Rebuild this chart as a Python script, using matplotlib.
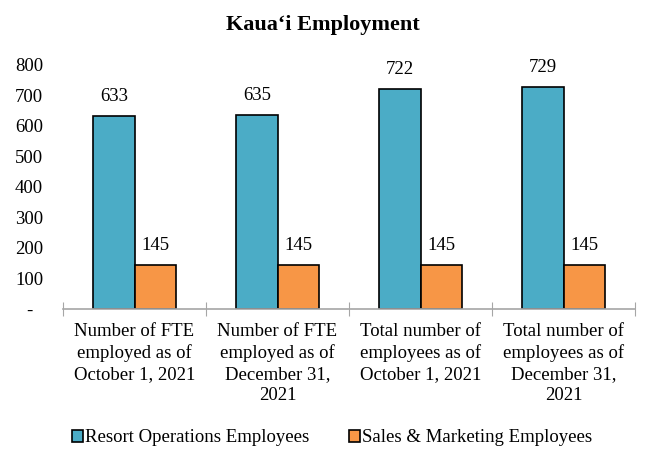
import numpy as np
from matplotlib import pyplot as plt

categories = ["Number of FTE\nemployed as of\nOctober 1, 2021",
              "Number of FTE\nemployed as of\nDecember 31,\n2021",
              "Total number of\nemployees as of\nOctober 1, 2021",
              "Total number of\nemployees as of\nDecember 31,\n2021"]
resort = [633, 635, 722, 729]
sales = [145, 145, 145, 145]
series_names = ["Resort Operations Employees", "Sales & Marketing Employees"]

plt.rcParams["font.family"] = ["Liberation Serif", "DejaVu Serif"]

fig = plt.figure(figsize=(6.45, 4.5), dpi=100)
ax = fig.add_axes([63 / 645, 1 - 309 / 450, (635 - 63) / 645, (309 - 65) / 450])

x = np.arange(len(categories))
w = 0.29
b1 = ax.bar(x - w / 2, resort, w, color="#4bacc6", edgecolor="black", linewidth=1.2,
            label=series_names[0])
b2 = ax.bar(x + w / 2, sales, w, color="#f79646", edgecolor="black", linewidth=1.2,
            label=series_names[1])
for bars in (b1, b2):
    ax.bar_label(bars, padding=8, fontsize=13.5)

ax.set_xlim(-0.5, 3.5)
ax.set_ylim(0, 800)
ax.set_yticks(range(0, 900, 100))
ax.set_yticklabels(["-"] + [str(v) for v in range(100, 900, 100)], fontsize=13.5)
ax.tick_params(axis="y", length=0, pad=24.5)
for lab in ax.get_yticklabels():
    lab.set_horizontalalignment("center")

ax.set_xticks(np.arange(-0.5, 4, 1))
ax.set_xticklabels([])
ax.set_xticks(x, minor=True)
ax.set_xticklabels(categories, minor=True, fontsize=13.5, linespacing=1.3)
ax.tick_params(axis="x", which="major", direction="inout", length=10, color="#a6a6a6")
ax.tick_params(axis="x", which="minor", length=0, pad=10)

for s in ["top", "right", "left"]:
    ax.spines[s].set_visible(False)
ax.spines["bottom"].set_color("#a6a6a6")
ax.spines["bottom"].set_linewidth(1.2)

fig.text(0.5, 1 - 25 / 450, "Kaua\u2018i Employment", ha="center", va="center",
         fontsize=16, fontweight="bold")

fig.legend(handles=[b1, b2], loc="center", bbox_to_anchor=(0.515, 1 - 438 / 450),
           ncol=2, frameon=False, fontsize=13.5, handlelength=0.6, handleheight=0.6,
           handletextpad=0.1, columnspacing=2.1)

fig.savefig("out.png", dpi=100)
